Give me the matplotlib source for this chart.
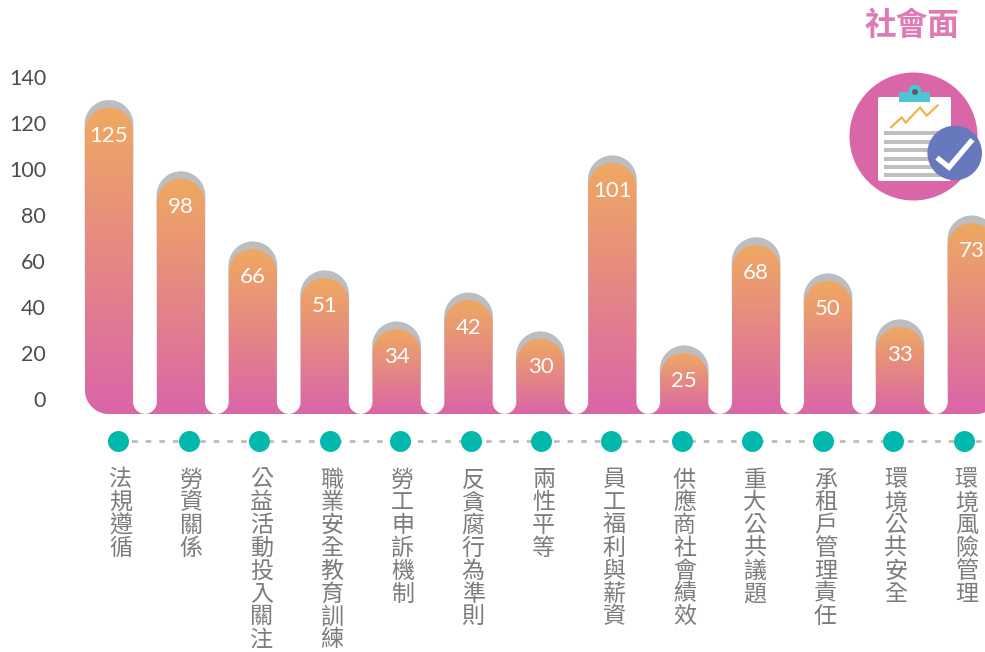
import numpy as np
import matplotlib
matplotlib.use("Agg")
from matplotlib import pyplot as plt
from matplotlib.colors import LinearSegmentedColormap
from matplotlib.path import Path
from matplotlib.patches import PathPatch, Circle, FancyBboxPatch, Rectangle

# labels printed on the bars
value_labels = [125, 98, 66, 51, 34, 42, 30, 101, 25, 68, 50, 33, 73]
# bar heights as drawn, read against the y axis (they do not quite follow the labels)
bar_heights = [126.7, 95.7, 65.2, 52.6, 30.4, 43.0, 26.1, 102.6, 20.0, 67.0, 51.3, 31.3, 76.5]
categories = ["法規遵循", "勞資關係", "公益活動投入關注", "職業安全教育訓練", "勞工申訴機制",
              "反貪腐行為準則", "兩性平等", "員工福利與薪資", "供應商社會績效", "重大公共議題",
              "承租戶管理責任", "環境公共安全", "環境風險管理"]
y_ticks = [0, 20, 40, 60, 80, 100, 120, 140]

W, H = 985, 652
BAR_PITCH = 71.9   # px between bars
CAT_PITCH = 70.47  # px between dots, the dots run a bit tighter than the bars
Y_SCALE = 2.3      # px per y unit
Y_ZERO = 399       # px row of y = 0
BASE = -6.5        # bar baseline in y units
CJK = "Noto Sans CJK TC"
LATIN = "Lato"

fig = plt.figure(figsize=(W / 100, H / 100), dpi=100, facecolor="white")
rect = [60 / W, 0, (W - 60) / W, 1]
ax = fig.add_axes(rect)
ax.set_xlim((60 - 109) / BAR_PITCH, (W - 109) / BAR_PITCH)
ylim = ((Y_ZERO - H) / Y_SCALE, Y_ZERO / Y_SCALE)
ax.set_ylim(*ylim)
xlim = ax.get_xlim()

grad = LinearSegmentedColormap.from_list("bar", ["#EFA961", "#DA65A9"])
ramp = np.linspace(0, 1, 256).reshape(-1, 1)


def arc(cx, cy, r, a0, a1):
    # circle arc given in px radius, returned in data units
    t = np.radians(np.linspace(a0, a1, 40))
    return np.column_stack([cx + r * np.cos(t) / BAR_PITCH, cy + r * np.sin(t) / Y_SCALE])


def bar_path(i, top, half, first=False, last=False):
    b = BASE
    if first:
        left = arc(i, b + 24 / Y_SCALE, 24, 270, 180)
    else:
        left = arc(i - 36 / BAR_PITCH, b + 12 / Y_SCALE, 12, -90, 0)
    head = arc(i, top - half / Y_SCALE, half, 180, 0)
    if last:
        right = arc(i + 4 / BAR_PITCH, b + 24 / Y_SCALE, 24, 0, -90)
    else:
        right = arc(i + 36 / BAR_PITCH, b + 12 / Y_SCALE, 12, 180, 270)
    return Path(np.vstack([left, head, right, left[:1]]))


n = len(bar_heights)
for i, h in enumerate(bar_heights):
    first, last = i == 0, i == n - 1
    # grey cap sitting behind the bar
    ax.add_patch(PathPatch(bar_path(i, h + 3.3, 24.4, first, last), fc="#BCBDC1", ec="none", zorder=1))
    im = ax.imshow(ramp, cmap=grad, extent=[i - 0.6, i + 0.6, BASE, h], aspect="auto",
                   interpolation="bilinear", zorder=2)
    clip = PathPatch(bar_path(i, h, 24, first, last), transform=ax.transData, fc="none", ec="none")
    ax.add_patch(clip)
    im.set_clip_path(clip)
    ax.annotate(str(value_labels[i]), xy=(i, h), xytext=(0, -28 * 0.72), textcoords="offset points",
                ha="center", va="center", color="white", fontsize=16, family=LATIN, zorder=3)

ax.set_xlim(*xlim)
ax.set_ylim(*ylim)
ax.set_xticks([])
ax.set_yticks(y_ticks)
ax.set_yticklabels([str(t) for t in y_ticks], family=LATIN, fontsize=15.5, color="#4D4D4D",
                   va="center_baseline")
ax.tick_params(axis="y", length=0, pad=10)
for s in ax.spines.values():
    s.set_visible(False)
ax.patch.set_visible(False)

# category strip has its own x scale
ax_cat = fig.add_axes(rect)
ax_cat.set_xlim((60 - 118.2) / CAT_PITCH, (W - 118.2) / CAT_PITCH)
ax_cat.set_ylim(*ylim)
ax_cat.axis("off")
dot_y = (Y_ZERO - 441.2) / Y_SCALE
cat_x = np.arange(len(categories))
ax_cat.plot([0, ax_cat.get_xlim()[1]], [dot_y, dot_y], color="#BDBDB0", lw=2.0, zorder=1,
            dashes=(2.0, 2.9))
ax_cat.scatter(cat_x, np.full(len(cat_x), dot_y), s=228, color="#00B8AC", linewidths=0, zorder=2)
label_y = (Y_ZERO - 468.5) / Y_SCALE
for i, c in enumerate(categories):
    ax_cat.annotate("\n".join(c), xy=(i, label_y), xytext=(2.5 * 0.72, 0), textcoords="offset points",
                    ha="center", va="top", fontsize=16.6, family=CJK, color="#7C7C7C",
                    linespacing=0.99, multialignment="center")

# icon and heading, drawn in plain pixels
ax_px = fig.add_axes([0, 0, 1, 1])
ax_px.set_xlim(0, W)
ax_px.set_ylim(H, 0)
ax_px.axis("off")
ax_px.text(911.5, 26, "社會面", ha="center", va="center", fontsize=22.8, fontweight="bold",
           family=CJK, color="#E07AB4")
ax_px.add_patch(Circle((913.5, 136.5), 64, fc="#D966A6", ec="none"))
ax_px.add_patch(FancyBboxPatch((880, 99), 69, 80, boxstyle="round,pad=2", fc="white", ec="none"))
ax_px.add_patch(Circle((915, 91), 6.5, fc="#4FC4D3", ec="none"))
ax_px.add_patch(Rectangle((899, 92), 31, 10, fc="#4FC4D3", ec="none"))
ax_px.add_patch(Circle((915, 92), 3, fc="#5A5F6B", ec="none"))
ax_px.plot([891, 901.7, 905.7, 920, 926.7, 937.7], [127.3, 117.3, 122.7, 107.3, 115.7, 105.3],
           color="#F2AE3D", lw=1.5)
for y0 in [131, 140, 148, 157, 165, 173]:
    ax_px.add_patch(Rectangle((884, y0), 61, 4, fc="#BFBFBF", ec="none"))
ax_px.add_patch(Circle((954.7, 153), 27.3, fc="#6779BC", ec="none"))
ax_px.plot([939, 949, 970.7], [159.3, 167.3, 141.7], color="white", lw=3.8, solid_joinstyle="miter")

plt.savefig("out.png", dpi=100)
